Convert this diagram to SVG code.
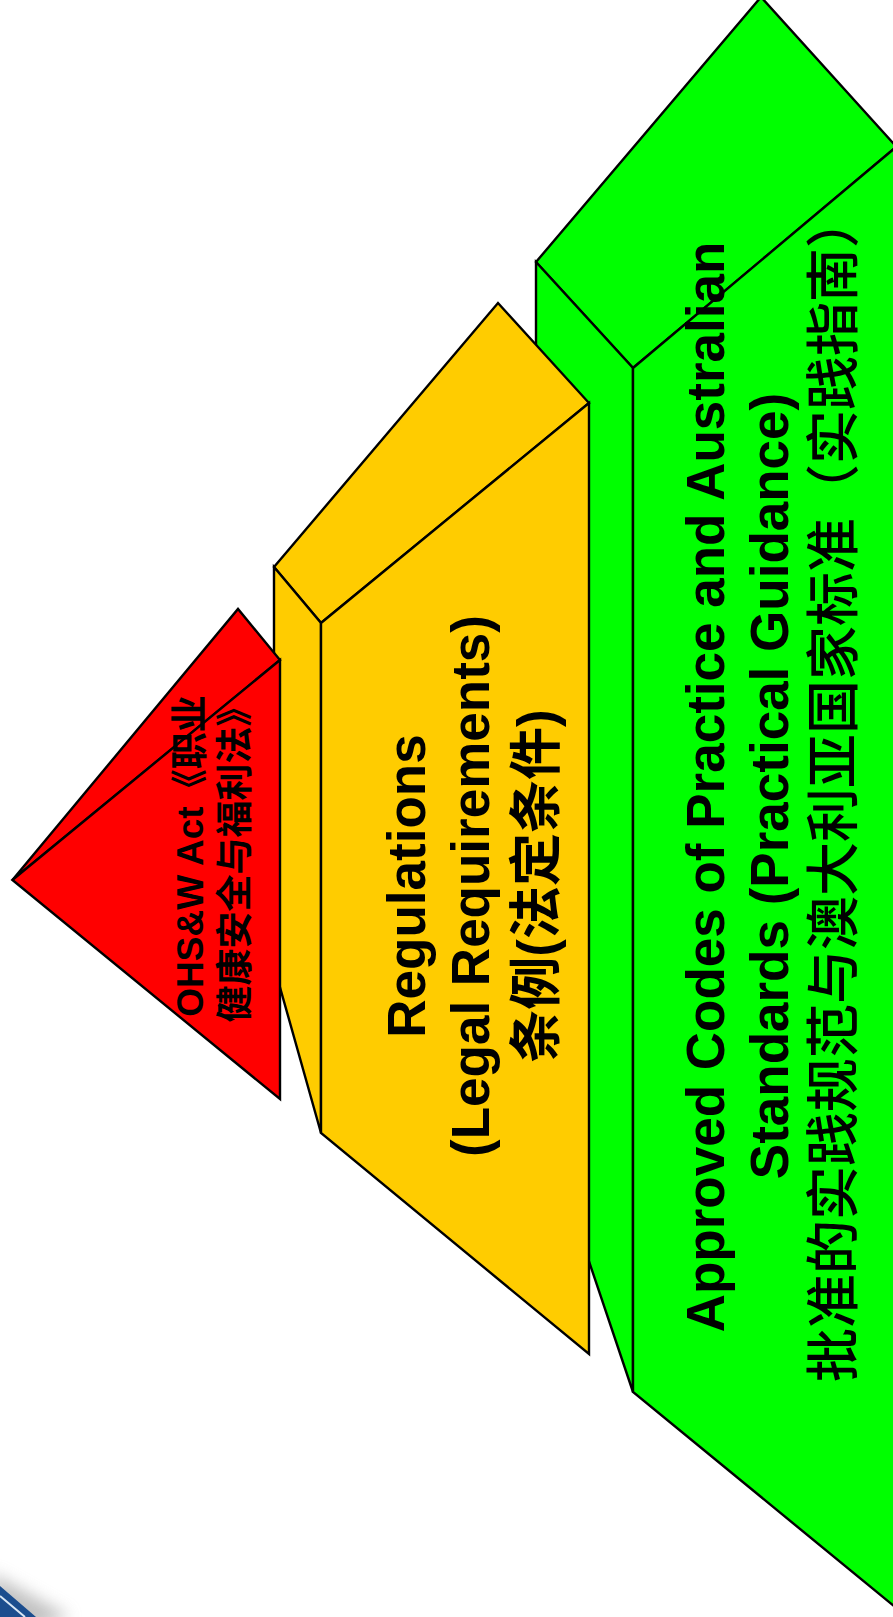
<svg xmlns="http://www.w3.org/2000/svg" width="893" height="1617" viewBox="0 0 893 1617">
<defs>
<style>
.face{stroke:#000;stroke-width:2.4;stroke-linejoin:miter}
.g{fill:#00ff00}
.y{fill:#ffcc00}
.r{fill:#ff0000}
.t{font-family:"Liberation Sans","Noto Sans CJK SC",sans-serif;font-weight:bold;fill:#000;text-anchor:middle}
.tn{font-family:"Liberation Sans","Noto Sans CJK SC",sans-serif;font-weight:500;fill:#000;text-anchor:middle}
</style>
<filter id="blur" x="-50%" y="-50%" width="200%" height="200%"><feGaussianBlur stdDeviation="8"/></filter>
</defs>
<rect width="893" height="1617" fill="#fff"/>
<g id="corner">
<path d="M-10,1572 L70,1617 L0,1640 Z" fill="#9a9a9a" opacity="0.6" filter="url(#blur)"/>
<path d="M0,1586 L36,1617 L0,1617 Z" fill="#1b4d8e"/>
<path d="M0,1596 L25,1617" stroke="#d8e6f4" stroke-width="2" fill="none"/>
</g>
<g id="green">
<polygon class="face g" points="536,262 761,-3 896.4,146.8 633,368"/>
<polygon class="face g" points="536,262 633,368 633,1392 536,1104"/>
<polygon class="face g" points="633,368 896.4,146.8 896.4,1608 633,1392"/>
<text class="t" font-size="53" transform="translate(724,787) rotate(-90)">Approved Codes of Practice and Australian</text>
<text class="t" font-size="53" transform="translate(788,786) rotate(-90)">Standards (Practical Guidance)</text>
<text class="tn" font-size="54" transform="translate(853,788) rotate(-90)">批准的实践规范与澳大利亚国家标准（实践指南）</text>
</g>
<g id="yellow">
<polygon class="face y" points="274,567 498,303 589,403 321,623"/>
<polygon class="face y" points="274,567 321,623 321,1133 274,966"/>
<polygon class="face y" points="321,623 589,403 589,1354 321,1133"/>
<text class="t" font-size="53" transform="translate(425,886) rotate(-90)">Regulations</text>
<text class="t" font-size="53" transform="translate(489,886) rotate(-90)">(Legal Requirements)</text>
<text class="t" font-size="53" transform="translate(555,886) rotate(-90)">条例(法定条件)</text>
</g>
<g id="red">
<polygon class="face r" points="12.4,880 238,609 280,660"/>
<polygon class="face r" points="12.4,880 280,660 280,1099"/>
<text class="t" font-size="37" transform="translate(203,856) rotate(-90)">OHS&amp;W Act《职业</text>
<text class="t" font-size="37" transform="translate(248,856) rotate(-90)">健康安全与福利法》</text>
</g>
<g id="connectors"/>
</svg>
